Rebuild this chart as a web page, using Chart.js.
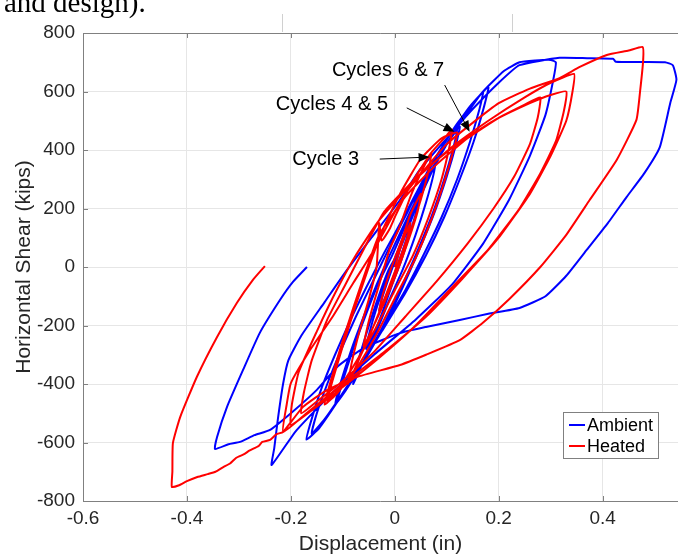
<!DOCTYPE html>
<html>
<head>
<meta charset="utf-8">
<script src="https://cdn.jsdelivr.net/npm/chart.js@4.4.0/dist/chart.umd.min.js"></script>
<style>
  html, body { margin: 0; padding: 0; background: #fff; overflow: hidden; }
  #wrap { position: relative; width: 678px; height: 557px; }
</style>
</head>
<body>
<div id="wrap"><canvas id="chart" width="678" height="557"></canvas></div>
<script>
// axis ticks
const xTicks = [-0.6, -0.4, -0.2, 0, 0.2, 0.4];
const yTicks = [-800, -600, -400, -200, 0, 200, 400, 600, 800];

// displacement (in), horizontal shear (kips)
const ambient = [
  [0,0],
  [0.01,60],[0.02,110],[0.03,150],[0.025,110],[0.012,40],[0,-20],[-0.012,-80],[-0.022,-120],[-0.03,-150],[-0.025,-110],[-0.012,-40],[0,20],
  [0.015,90],[0.03,170],[0.042,225],[0.05,260],[0.045,210],[0.03,120],[0.012,20],[-0.005,-60],[-0.025,-160],[-0.042,-235],[-0.055,-280],[-0.048,-220],[-0.035,-140],[-0.015,-40],[0,30],
  [0.02,120],[0.04,230],[0.06,310],[0.08,380],[0.075,320],[0.06,220],[0.04,110],[0.015,-10],[-0.01,-110],[-0.035,-220],[-0.06,-320],[-0.08,-400],[-0.072,-330],[-0.055,-230],[-0.035,-120],[-0.012,-10],
  [0.01,60],[0.04,200],[0.07,320],[0.1,420],[0.12,470],[0.113,410],[0.095,300],[0.07,170],[0.04,40],[0.01,-80],[-0.025,-210],[-0.06,-320],[-0.09,-410],[-0.11,-460],[-0.1,-390],[-0.08,-280],[-0.055,-160],[-0.03,-50],
  [-0.005,40],[0.03,180],[0.065,310],[0.1,420],[0.125,480],[0.118,420],[0.1,310],[0.075,180],[0.045,50],[0.015,-70],[-0.02,-200],[-0.055,-310],[-0.09,-410],[-0.115,-470],[-0.105,-400],[-0.085,-290],[-0.06,-170],[-0.035,-60],
  [-0.01,40],[0.03,190],[0.07,330],[0.11,450],[0.145,540],[0.17,600],[0.163,540],[0.145,430],[0.12,300],[0.09,170],[0.055,40],[0.02,-80],[-0.02,-200],[-0.06,-320],[-0.1,-430],[-0.135,-520],[-0.16,-570],[-0.15,-500],[-0.13,-400],[-0.105,-290],[-0.075,-170],[-0.045,-60],
  [-0.015,50],[0.025,190],[0.065,330],[0.105,450],[0.145,550],[0.18,615],[0.172,550],[0.152,430],[0.125,300],[0.095,170],[0.06,40],[0.02,-90],[-0.025,-220],[-0.07,-350],[-0.11,-460],[-0.145,-550],[-0.17,-590],[-0.16,-520],[-0.14,-410],[-0.115,-300],[-0.085,-180],[-0.055,-70],
  [-0.02,50],[0.02,180],[0.07,350],[0.12,490],[0.17,600],[0.21,670],[0.24,700],[0.27,706],[0.3,708],[0.31,700],[0.305,640],[0.29,520],[0.26,380],[0.22,230],[0.17,80],[0.11,-60],[0.04,-180],[-0.04,-300],[-0.12,-430],[-0.19,-560],[-0.237,-677],
  [-0.232,-620],[-0.225,-520],[-0.215,-400],[-0.205,-320],[-0.18,-235],[-0.135,-120],[-0.092,-10],[-0.045,100],[0.01,229],[0.048,332],[0.1,440],[0.15,540],[0.2,630],[0.24,690],[0.317,715],[0.37,714],[0.42,712],[0.425,702],[0.48,701],[0.52,700],[0.535,690],[0.542,640],
  [0.53,560],[0.51,410],[0.48,320],[0.446,239],[0.41,150],[0.37,60],[0.33,-30],[0.29,-100],[0.24,-140],[0.18,-160],[0.125,-181],[0.06,-205],[0.01,-226],[-0.06,-277],[-0.11,-340],[-0.15,-420],[-0.2,-500],[-0.24,-557],[-0.27,-575],[-0.298,-598],[-0.32,-606],[-0.346,-622],
  [-0.342,-581],[-0.323,-479],[-0.292,-352],[-0.26,-226],[-0.221,-113],[-0.196,-51],[-0.169,0]
];

const heated = [
  [0,0],
  [0.01,60],[0.02,110],[0.03,150],[0.024,100],[0.01,30],[-0.005,-40],[-0.018,-100],[-0.03,-150],[-0.024,-100],[-0.012,-30],[0,30],
  [0.015,100],[0.03,180],[0.05,250],[0.044,190],[0.028,100],[0.01,10],[-0.01,-80],[-0.035,-180],[-0.06,-270],[-0.052,-200],[-0.04,-120],[-0.025,-30],[-0.01,60],
  [0.01,140],[0.03,240],[0.05,320],[0.07,390],[0.065,330],[0.05,230],[0.03,120],[0.005,0],[-0.02,-110],[-0.045,-220],[-0.07,-320],[-0.09,-400],[-0.082,-320],[-0.068,-220],[-0.05,-110],[-0.035,0],[-0.03,150],[-0.025,90],[-0.01,130],
  [0,170],[0.03,280],[0.07,390],[0.1,450],[0.11,470],[0.105,410],[0.09,300],[0.065,170],[0.035,40],[0,-80],[-0.04,-220],[-0.08,-340],[-0.11,-420],[-0.13,-460],[-0.12,-390],[-0.1,-270],[-0.075,-130],[-0.05,0],
  [-0.025,120],[0.01,250],[0.05,370],[0.09,440],[0.12,460],[0.113,400],[0.095,290],[0.07,160],[0.04,30],[0.005,-90],[-0.035,-230],[-0.075,-350],[-0.11,-430],[-0.135,-470],[-0.125,-400],[-0.105,-280],[-0.08,-140],[-0.055,-10],
  [-0.03,110],[0.02,240],[0.08,350],[0.14,440],[0.2,510],[0.25,555],[0.28,580],[0.275,510],[0.26,420],[0.23,310],[0.19,200],[0.14,80],[0.08,-50],[0.02,-170],[-0.04,-290],[-0.1,-390],[-0.15,-460],[-0.18,-500],[-0.175,-430],[-0.16,-320],[-0.13,-180],[-0.095,-60],
  [-0.06,60],[-0.02,190],[0.05,320],[0.12,420],[0.19,500],[0.26,560],[0.3,588],[0.33,600],[0.325,530],[0.31,430],[0.28,320],[0.24,200],[0.18,60],[0.11,-70],[0.04,-200],[-0.03,-310],[-0.1,-410],[-0.16,-490],[-0.2,-540],[-0.198,-470],[-0.185,-360],[-0.15,-220],[-0.115,-90],
  [-0.075,40],[-0.03,160],[0.04,300],[0.11,410],[0.18,500],[0.25,580],[0.3,630],[0.345,660],[0.342,600],[0.33,500],[0.3,380],[0.26,250],[0.2,100],[0.13,-40],[0.06,-170],[-0.02,-290],[-0.1,-400],[-0.17,-500],[-0.215,-564],[-0.208,-470],[-0.2,-397],[-0.163,-284],[-0.12,-171],[-0.08,-55],
  [-0.04,58],[0.02,250],[0.1,420],[0.2,560],[0.26,610],[0.317,646],[0.356,684],[0.408,725],[0.45,740],[0.477,752],[0.478,708],[0.472,600],[0.465,503],[0.427,366],[0.375,229],[0.33,110],[0.28,0],[0.22,-110],[0.17,-190],[0.125,-250],[0.06,-300],[0.01,-335],[-0.073,-376],[-0.13,-420],[-0.177,-479],[-0.215,-564],
  [-0.228,-572],[-0.24,-591],[-0.255,-598],[-0.262,-612],[-0.28,-628],[-0.29,-640],[-0.305,-652],[-0.317,-672],[-0.33,-684],[-0.345,-700],[-0.36,-708],[-0.38,-718],[-0.4,-732],[-0.415,-746],[-0.429,-752],
  [-0.428,-700],[-0.427,-602],[-0.413,-513],[-0.381,-376],[-0.342,-239],[-0.304,-123],[-0.273,-44],[-0.25,3]
];

// label text, text centre and arrow start/tip, all in data units
const notes = [
  { text: 'Cycles 6 & 7', tx: -0.013, ty: 673, x0: 0.096, y0: 622, x1: 0.144, y1: 462 },
  { text: 'Cycles 4 & 5', tx: -0.121, ty: 554, x0: 0.023, y0: 544, x1: 0.115, y1: 462 },
  { text: 'Cycle 3', tx: -0.133, ty: 369, x0: -0.029, y0: 369, x1: 0.067, y1: 376 }
];

const seriesNames = ['Ambient', 'Heated'];
const seriesColors = ['#0000ff', '#ff0000'];

const FONT = "'Liberation Sans', Arial, sans-serif";

const extras = {
  id: 'extras',
  afterDraw(chart) {
    const { ctx, chartArea: a, scales: { x, y } } = chart;
    ctx.save();

    // bits of the page around the figure
    ctx.fillStyle = '#000';
    ctx.font = "29px 'Liberation Serif', 'Times New Roman', serif";
    ctx.textBaseline = 'alphabetic';
    ctx.textAlign = 'left';
    ctx.fillText('and design).', 4, 12);
    ctx.strokeStyle = '#d0d0d0';
    ctx.lineWidth = 1;
    ctx.beginPath();
    ctx.moveTo(282.5, 14); ctx.lineTo(282.5, 32);
    ctx.moveTo(512.5, 14); ctx.lineTo(512.5, 32);
    ctx.stroke();

    // box + inward ticks
    ctx.strokeStyle = '#808080';
    ctx.beginPath();
    ctx.moveTo(a.left + 0.5, a.bottom + 0.5);
    ctx.lineTo(a.left + 0.5, a.top + 0.5);
    ctx.lineTo(a.right, a.top + 0.5);
    ctx.moveTo(a.left, a.bottom + 0.5);
    ctx.lineTo(a.right, a.bottom + 0.5);
    xTicks.forEach(v => {
      const px = Math.round(x.getPixelForValue(v)) + 0.5;
      ctx.moveTo(px, a.bottom); ctx.lineTo(px, a.bottom - 5);
      ctx.moveTo(px, a.top); ctx.lineTo(px, a.top + 5);
    });
    yTicks.forEach(v => {
      const py = Math.round(y.getPixelForValue(v)) + 0.5;
      ctx.moveTo(a.left, py); ctx.lineTo(a.left + 5, py);
    });
    ctx.stroke();

    // annotations
    ctx.font = '20px ' + FONT;
    ctx.textAlign = 'center';
    ctx.textBaseline = 'middle';
    notes.forEach(n => {
      ctx.fillStyle = '#000';
      ctx.fillText(n.text, x.getPixelForValue(n.tx), y.getPixelForValue(n.ty));
      const sx = x.getPixelForValue(n.x0), sy = y.getPixelForValue(n.y0);
      const ex = x.getPixelForValue(n.x1), ey = y.getPixelForValue(n.y1);
      const ang = Math.atan2(ey - sy, ex - sx);
      ctx.strokeStyle = '#000';
      ctx.lineWidth = 1;
      ctx.beginPath();
      ctx.moveTo(sx, sy); ctx.lineTo(ex - 8 * Math.cos(ang), ey - 8 * Math.sin(ang));
      ctx.stroke();
      ctx.beginPath();
      ctx.moveTo(ex, ey);
      ctx.lineTo(ex - 11 * Math.cos(ang) + 4.5 * Math.sin(ang), ey - 11 * Math.sin(ang) - 4.5 * Math.cos(ang));
      ctx.lineTo(ex - 11 * Math.cos(ang) - 4.5 * Math.sin(ang), ey - 11 * Math.sin(ang) + 4.5 * Math.cos(ang));
      ctx.closePath();
      ctx.fill();
    });

    // legend box
    const lx = a.right - 115, ly = a.bottom - 89, lw = 95, lh = 46;
    ctx.fillStyle = '#fff';
    ctx.fillRect(lx, ly, lw, lh);
    ctx.strokeStyle = '#808080';
    ctx.strokeRect(lx + 0.5, ly + 0.5, lw, lh);
    ctx.font = '18px ' + FONT;
    ctx.textAlign = 'left';
    seriesNames.forEach((name, i) => {
      const cy = ly + 13 + i * 21;
      ctx.strokeStyle = seriesColors[i];
      ctx.lineWidth = 2;
      ctx.beginPath();
      ctx.moveTo(lx + 6, cy); ctx.lineTo(lx + 22, cy);
      ctx.stroke();
      ctx.fillStyle = '#000';
      ctx.fillText(name, lx + 24, cy + 1);
    });
    ctx.restore();
  }
};

const toPts = arr => arr.map(p => ({ x: p[0], y: p[1] }));

new Chart(document.getElementById('chart'), {
  type: 'scatter',
  data: {
    datasets: [
      { label: seriesNames[0], data: toPts(ambient), showLine: true, borderColor: seriesColors[0], borderWidth: 2, pointRadius: 0, tension: 0.15, order: 1 },
      { label: seriesNames[1], data: toPts(heated), showLine: true, borderColor: seriesColors[1], borderWidth: 2, pointRadius: 0, tension: 0.15, order: 0 }
    ]
  },
  options: {
    responsive: false,
    animation: false,
    devicePixelRatio: 1,
    layout: { padding: { top: 33, right: 0, bottom: 0, left: 0 } },
    plugins: { legend: { display: false }, tooltip: { enabled: false } },
    scales: {
      x: {
        type: 'linear', min: -0.6, max: 0.545,
        afterBuildTicks: s => { s.ticks = xTicks.map(v => ({ value: v })); },
        afterFit: s => { s.height = 56; },
        grid: { color: '#e6e6e6', drawTicks: false },
        border: { display: false },
        ticks: { color: '#262626', padding: 6, font: { family: FONT, size: 19 }, callback: v => String(v) },
        title: { display: true, text: 'Displacement (in)', color: '#262626', font: { family: FONT, size: 21 }, padding: 0 }
      },
      y: {
        type: 'linear', min: -800, max: 800,
        afterBuildTicks: s => { s.ticks = yTicks.map(v => ({ value: v })); },
        afterFit: s => { s.width = 83; },
        grid: { color: '#e6e6e6', drawTicks: false },
        border: { display: false },
        ticks: { color: '#262626', padding: 8, font: { family: FONT, size: 19 } },
        title: { display: true, text: 'Horizontal Shear (kips)', color: '#262626', font: { family: FONT, size: 21 }, padding: { top: 12, bottom: 0 } }
      }
    }
  },
  plugins: [extras]
});
</script>
</body>
</html>
